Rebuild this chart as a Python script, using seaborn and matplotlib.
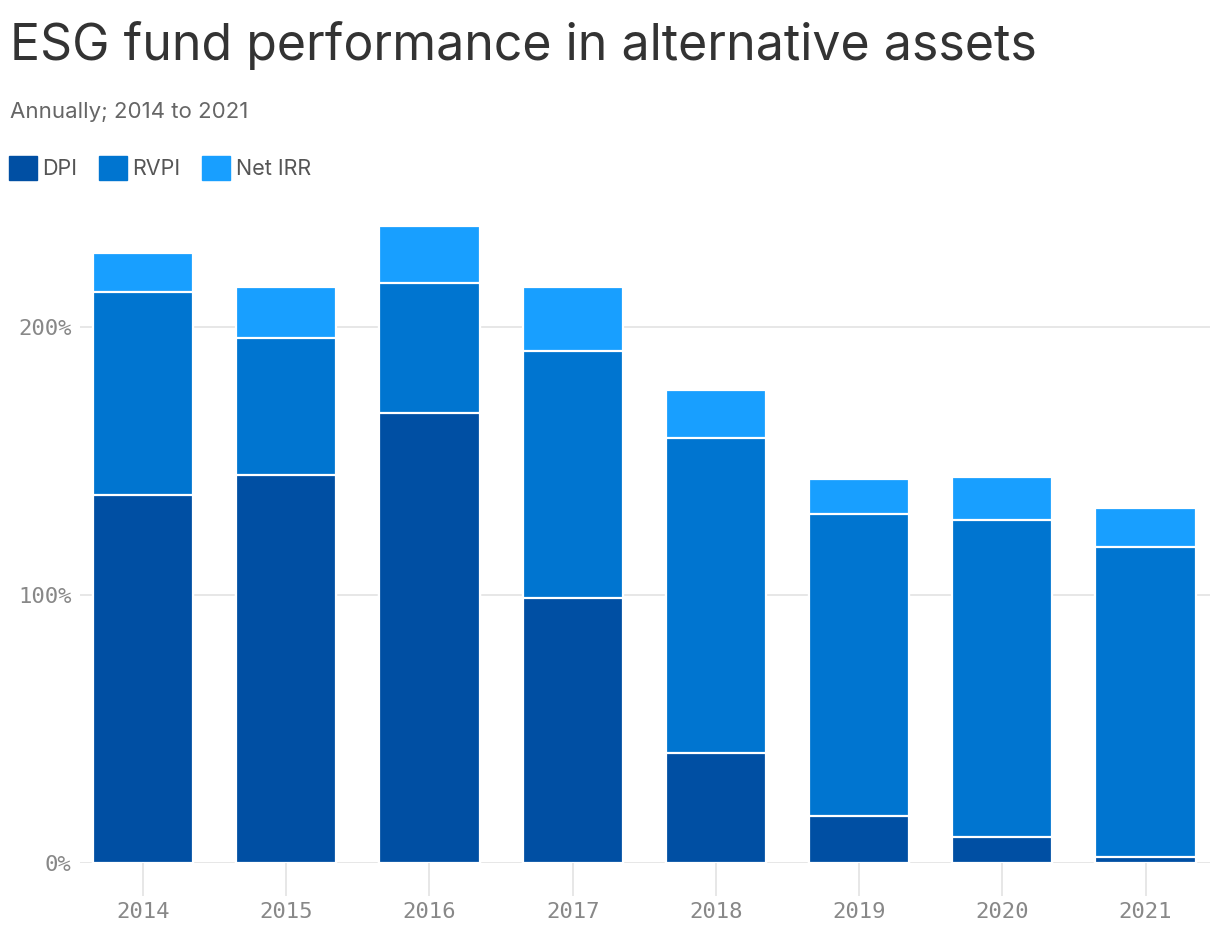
import seaborn as sns
import matplotlib.pyplot as plt
from matplotlib.patches import Patch
import pandas as pd

years = ["2014", "2015", "2016", "2017", "2018", "2019", "2020", "2021"]
dpi = [137.3, 144.8, 167.9, 98.9, 41.0, 17.5, 9.7, 2.2]
rvpi = [75.8, 51.1, 48.5, 92.2, 117.5, 112.7, 118.3, 115.7]
net_irr = [14.5, 18.7, 21.3, 23.5, 17.9, 13.1, 16.0, 14.6]

colors = {"DPI": "#004fa3", "RVPI": "#0075d0", "Net IRR": "#189fff"}

sns.set_theme(style="white")
plt.rcParams["font.family"] = ["Inter", "DejaVu Sans"]

d = pd.DataFrame({"Year": years, "DPI": dpi, "RVPI": rvpi, "Net IRR": net_irr})
d["top_rvpi"] = d["DPI"] + d["RVPI"]
d["top_irr"] = d["top_rvpi"] + d["Net IRR"]

fig = plt.figure(figsize=(12.2, 9.4), dpi=100)
ax = fig.add_axes([80 / 1220, 77 / 940, 1130 / 1220, 649 / 940])

# stacked bars by drawing the running totals on top of each other
for col, name in [("top_irr", "Net IRR"), ("top_rvpi", "RVPI"), ("DPI", "DPI")]:
    sns.barplot(data=d, x="Year", y=col, color=colors[name], width=0.70,
                saturation=1, edgecolor="white", linewidth=1.6, ax=ax, zorder=3)

ax.set_xlim(-0.44, 7.45)
ax.set_ylim(0, 242)
ax.set_yticks([0, 100, 200])
ax.set_yticklabels(["0%", "100%", "200%"])
ax.grid(axis="y", color="#e3e3e3", linewidth=1.2, zorder=0)
ax.set_xlabel("")
ax.set_ylabel("")
for s in ax.spines.values():
    s.set_visible(False)
ax.tick_params(axis="x", bottom=True, length=24, width=1.2, color="#e3e3e3",
               pad=4, labelsize=16, labelcolor="#888888")
ax.tick_params(axis="y", left=False, length=0, pad=6, labelsize=16,
               labelcolor="#888888")
for lab in ax.get_xticklabels() + ax.get_yticklabels():
    lab.set_family("DejaVu Sans Mono")

fig.text(10 / 1220, 1 - 45 / 940, "ESG fund performance in alternative assets",
         fontsize=36, color="#333333", va="center", ha="left")
fig.text(10 / 1220, 1 - 112 / 940, "Annually; 2014 to 2021",
         fontsize=16, color="#666666", va="center", ha="left")

handles = [Patch(color=colors[k]) for k in ["DPI", "RVPI", "Net IRR"]]
fig.legend(handles, ["DPI", "RVPI", "Net IRR"], loc="center left",
           bbox_to_anchor=(-8 / 1220, 1 - 168 / 940), ncol=3, frameon=False,
           fontsize=15.5, labelcolor="#555555", handlelength=1.3, handleheight=1.3,
           handletextpad=0.25, columnspacing=1.0, borderpad=0.3)

plt.savefig("out.png", dpi=100)
